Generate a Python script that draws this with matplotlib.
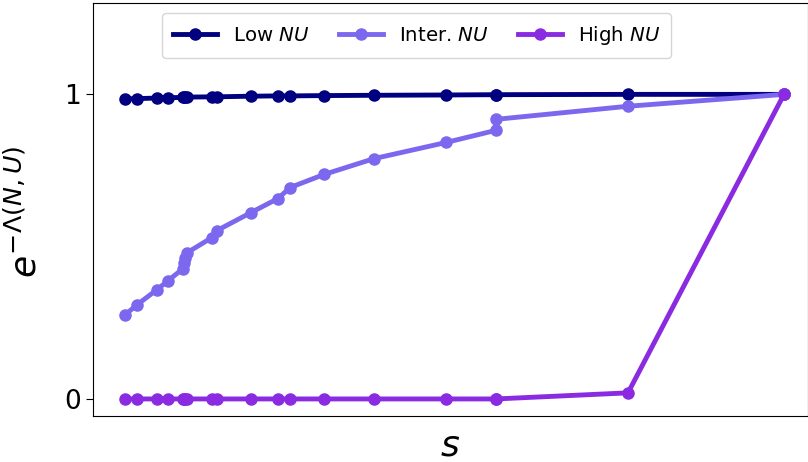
import matplotlib

matplotlib.use("Agg")
import matplotlib.pyplot as plt  # noqa: E402

# s values (arbitrary units)
s = [32, 44, 64, 75, 90, 91, 92, 94, 119, 124, 158, 185, 197,
     231, 281, 353, 403, 403, 535, 691]

low_nu = [0.985, 0.986, 0.988, 0.989, 0.990, 0.990, 0.990, 0.991, 0.992, 0.992,
          0.994, 0.995, 0.995, 0.996, 0.997, 0.998, 0.999, 0.999, 1.0, 1.0]
inter_nu = [0.276, 0.309, 0.359, 0.388, 0.428, 0.447, 0.464, 0.480, 0.530, 0.553,
            0.612, 0.658, 0.694, 0.737, 0.789, 0.842, 0.882, 0.918, 0.961, 1.0]
high_nu = [0.0, 0.0, 0.0, 0.0, 0.0, 0.0, 0.0, 0.0, 0.0, 0.0,
           0.0, 0.0, 0.0, 0.0, 0.0, 0.0, 0.0, 0.0, 0.02, 1.0]

series = [
    ("Low $NU$", low_nu, "#000080"),
    ("Inter. $NU$", inter_nu, "#7B68EE"),
    ("High $NU$", high_nu, "#8A2BE2"),
]

fig = plt.figure(figsize=(8.08, 4.62), dpi=100)
ax = fig.add_axes([93 / 808, 46 / 462, 715 / 808, 413 / 462])

for label, vals, color in series:
    ax.plot(s, vals, "-o", color=color, lw=3.5, ms=8, label=label)

ax.set_xlim(0, 715)
ax.set_ylim(-0.056, 1.30)
ax.set_xticks([])
ax.set_yticks([0, 1])
ax.tick_params(axis="y", labelsize=19, length=5)
ax.set_xlabel("$s$", fontsize=26, labelpad=9)
ax.set_ylabel(r"$e^{-\Lambda(N,U)}$", fontsize=26)
ax.yaxis.set_label_coords(-0.070, 0.495)
ax.legend(loc="upper center", ncol=3, fontsize=14.2, handlelength=2.23,
          columnspacing=1.5, borderpad=0.55, bbox_to_anchor=(0.453, 1.0))

fig.savefig("out.png", dpi=100)
